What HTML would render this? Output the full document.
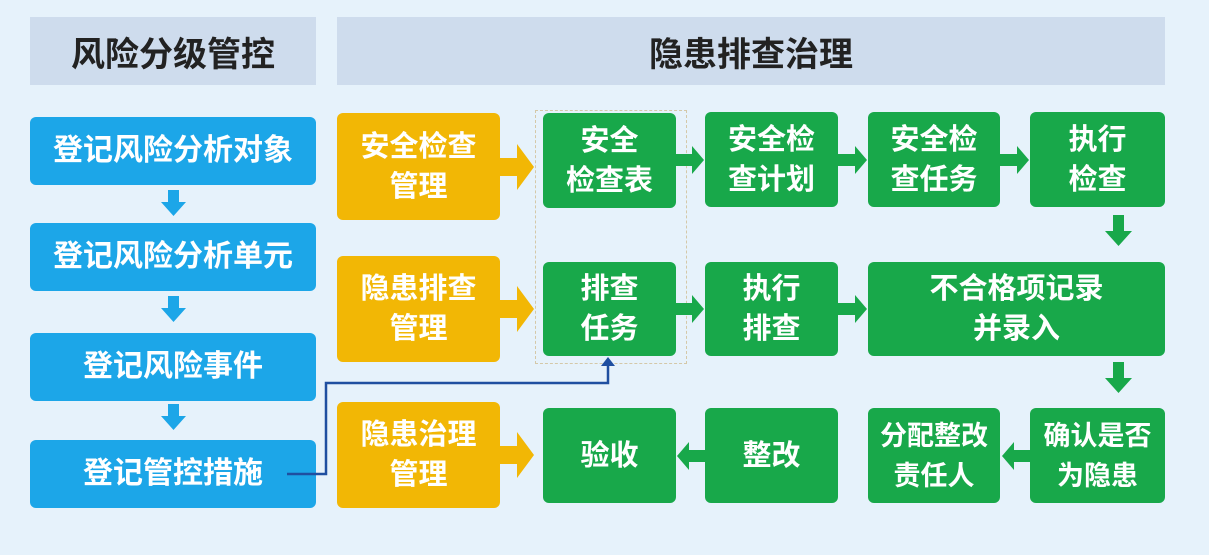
<!DOCTYPE html>
<html><head><meta charset="utf-8"><style>
body{margin:0;width:1209px;height:555px;background:#e6f2fb;position:relative;overflow:hidden;font-family:"Liberation Sans","Noto Sans CJK SC",sans-serif;}
.b{position:absolute;display:flex;align-items:center;justify-content:center;text-align:center;color:#fff;font-weight:bold;font-size:29px;line-height:40px;border-radius:6px;}
.h{position:absolute;background:#cedced;color:#222;font-weight:bold;font-size:34px;display:flex;align-items:center;justify-content:center;}
.bl{background:#1ca6e8;left:30px;width:286px;height:68px;font-size:30px;}
.or{background:#f2b705;left:337px;width:163px;}
.gr{background:#18a84a;}
svg{position:absolute;left:0;top:0;}
</style></head><body>
<div class="h" style="left:30px;top:17px;width:286px;height:68px;">风险分级管控</div>
<div class="h" style="left:337px;top:17px;width:828px;height:68px;">隐患排查治理</div>

<div class="b bl" style="top:117px;">登记风险分析对象</div>
<div class="b bl" style="top:223px;">登记风险分析单元</div>
<div class="b bl" style="top:333px;">登记风险事件</div>
<div class="b bl" style="top:440px;">登记管控措施</div>

<div class="b or" style="top:113px;height:107px;">安全检查<br>管理</div>
<div class="b or" style="top:256px;height:106px;">隐患排查<br>管理</div>
<div class="b or" style="top:402px;height:106px;">隐患治理<br>管理</div>

<div style="position:absolute;left:535px;top:110px;width:150px;height:252px;border:1px dashed #d4c8a8;"></div>

<div class="b gr" style="left:543px;top:113px;width:133px;height:95px;">安全<br>检查表</div>
<div class="b gr" style="left:705px;top:112px;width:133px;height:95px;">安全检<br>查计划</div>
<div class="b gr" style="left:868px;top:112px;width:132px;height:95px;">安全检<br>查任务</div>
<div class="b gr" style="left:1030px;top:112px;width:135px;height:95px;">执行<br>检查</div>

<div class="b gr" style="left:543px;top:262px;width:133px;height:94px;">排查<br>任务</div>
<div class="b gr" style="left:705px;top:262px;width:133px;height:94px;">执行<br>排查</div>
<div class="b gr" style="left:868px;top:262px;width:297px;height:94px;">不合格项记录<br>并录入</div>

<div class="b gr" style="left:543px;top:408px;width:133px;height:95px;">验收</div>
<div class="b gr" style="left:705px;top:408px;width:133px;height:95px;">整改</div>
<div class="b gr" style="left:868px;top:408px;width:132px;height:95px;font-size:27px;">分配整改<br>责任人</div>
<div class="b gr" style="left:1030px;top:408px;width:135px;height:95px;font-size:27px;">确认是否<br>为隐患</div>

<svg width="1209" height="555">
<g fill="#1ca6e8">
<path d="M168 190h11v12h7l-12.5 14l-12.5-14h7z"/>
<path d="M168 296h11v12h7l-12.5 14l-12.5-14h7z"/>
<path d="M168 404h11v12h7l-12.5 14l-12.5-14h7z"/>
</g>
<g fill="#f2b705">
<path d="M500 158h17v-14l17 23l-17 23v-14h-17z"/>
<path d="M500 300h17v-14l17 23l-17 23v-14h-17z"/>
<path d="M500 446h17v-14l17 23l-17 23v-14h-17z"/>
</g>
<g fill="#18a84a">
<path d="M676 154h16v-8l12 14l-12 14v-8h-16z"/>
<path d="M838 154h17v-8l12 14l-12 14v-8h-17z"/>
<path d="M1000 154h17v-8l12 14l-12 14v-8h-17z"/>
<path d="M676 303h16v-8l12 14l-12 14v-8h-16z"/>
<path d="M838 303h17v-8l12 14l-12 14v-8h-17z"/>
<path d="M1113 215h11v16h8l-13.5 15l-13.5-15h8z"/>
<path d="M1113 362h11v16h8l-13.5 15l-13.5-15h8z"/>
<path d="M705 450h-16v-8l-12 14l12 14v-8h16z"/>
<path d="M1030 450h-16v-8l-12 14l12 14v-8h16z"/>
</g>
<polyline points="287,474 326,474 326,383 608,383 608,364" fill="none" stroke="#1f4fa0" stroke-width="2.5"/>
<path d="M601 366l7-9l7 9z" fill="#1f4fa0"/>
</svg>
</body></html>
